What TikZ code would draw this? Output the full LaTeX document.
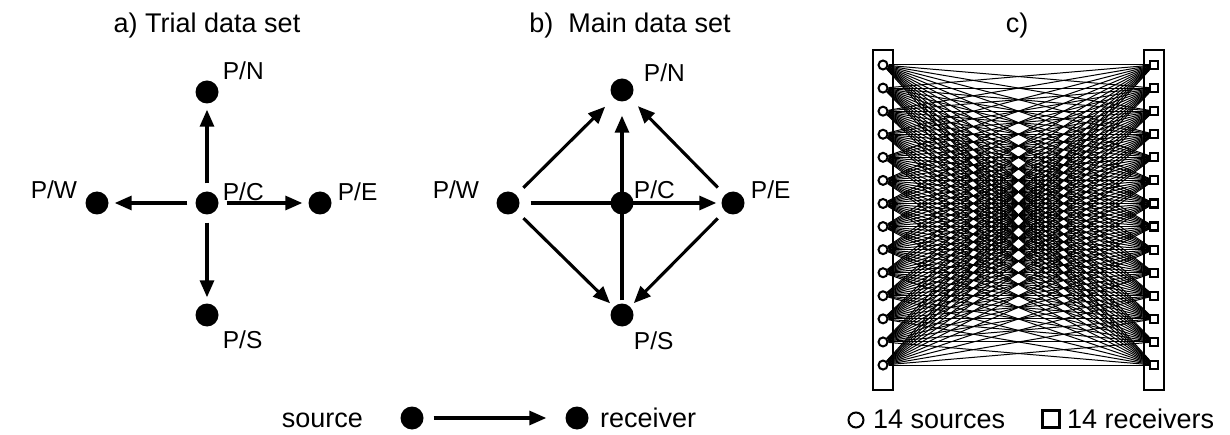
\documentclass[tikz,border=0pt]{standalone}
\usepackage{fontspec}
\setmainfont{Liberation Sans}
\usetikzlibrary{arrows.meta, positioning}
\tikzset{
  station/.style = {circle, fill=black, inner sep=0, minimum size=23pt},
  plabel/.style = {inner sep=0, font=\fontsize{24.5}{28}\selectfont},
  caption/.style = {inner sep=0, anchor=base, font=\fontsize{27}{32}\selectfont},
  ray/.style = {line width=3.1pt, -{Triangle[length=17pt,width=14pt]}, shorten <=8pt, shorten >=6pt},
  fan/.style = {line width=1pt},
  frame/.style = {line width=2.6pt},
  srcmark/.style = {circle, draw, line width=2pt, fill=white, inner sep=0, minimum size=9pt},
  rcvmark/.style = {rectangle, draw, line width=2.2pt, fill=white, inner sep=0, minimum size=8pt},
}

\begin{document}
\begin{tikzpicture}[x=1pt, y=-1pt]
  \useasboundingbox (0,0) rectangle (1230,435);

  % a) one shot in the centre, four receivers around it
  \node (atitle) [caption] at (207,33) {a) Trial data set};
  \node (aC) [station] at (207,203) {};
  \node (aN) [station] at (207,92) {};
  \node (aS) [station] at (207,315) {};
  \node (aE) [station] at (320,203) {};
  \node (aW) [station] at (97,203) {};
  \foreach \X in {N,E,S,W}
    \draw [ray] (aC) -- (a\X);

  \node (aNlab) [plabel, right=4pt of aN, yshift=21pt] {P/N};
  \node (aClab) [plabel, right=4pt of aC, yshift=11pt] {P/C};
  \node (aElab) [plabel, right=6pt of aE, yshift=11pt] {P/E};
  \node (aSlab) [plabel, right=4pt of aS, yshift=-25pt] {P/S};
  \node (aWlab) [plabel, left=8pt of aW, yshift=13pt] {P/W};

  % b) every station shoots into its neighbours
  \node (btitle) [caption] at (630,33) {b)~ Main data set};
  \node (bC) [station] at (622,203) {};
  \node (bN) [station] at (622,90) {};
  \node (bS) [station] at (622,315) {};
  \node (bE) [station] at (733,203) {};
  \node (bW) [station] at (508,203) {};
  \foreach \s/\r/\t in {W/N/12pt, E/N/11pt, W/S/5pt, E/S/5pt}
    \draw [ray, shorten <=10pt, shorten >=\t] (b\s) -- (b\r);
  \draw [ray, shorten <=11pt, shorten >=5pt] (bW) -- (bE);
  \draw [ray, shorten <=3pt, shorten >=14pt] (bS) -- (bN);

  \node (bNlab) [plabel, right=10pt of bN, yshift=17pt] {P/N};
  \node (bClab) [plabel, right=0pt of bC, yshift=13pt] {P/C};
  \node (bElab) [plabel, right=6pt of bE, yshift=13pt] {P/E};
  \node (bSlab) [plabel, right=0pt of bS, yshift=-26pt] {P/S};
  \node (bWlab) [plabel, left=17pt of bW, yshift=13pt] {P/W};

  % legend under a) and b)
  \node (srcword) [caption, anchor=base east] at (363,427) {source};
  \node (srcdot) [station] at (412,418) {};
  \node (rcvdot) [station] at (577,418) {};
  \draw [ray, shorten <=10pt, shorten >=19pt] (srcdot) -- (rcvdot);
  \node (rcvword) [caption, anchor=base west] at (600,427) {receiver};

  % c) full crossing geometry, 14 x 14 ray paths
  \node (ctitle) [caption] at (1017,33) {c)};
  \draw [frame] (873,50) rectangle (893,390);
  \draw [frame] (1144,50) rectangle (1164,390);
  \foreach \i in {1,...,14} {
    \node (src\i) [srcmark] at (883,{65+23.08*(\i-1)}) {};
    \node (rcv\i) [rcvmark] at (1154,{65+23.08*(\i-1)}) {};
  }
  \foreach \i in {1,...,14}
    \foreach \j in {1,...,14}
      \draw [fan] (src\i) -- (rcv\j);

  \node (srckey) [circle, draw, line width=2pt, inner sep=0, minimum size=15pt] at (856,420) {};
  \node (srckeylab) [caption, anchor=base west] at (873,428) {14 sources};
  \node (rcvkey) [draw, line width=2.2pt, inner sep=0, minimum size=17pt] at (1051,419) {};
  \node (rcvkeylab) [caption, anchor=base west] at (1067,428) {14 receivers};
\end{tikzpicture}
\end{document}
